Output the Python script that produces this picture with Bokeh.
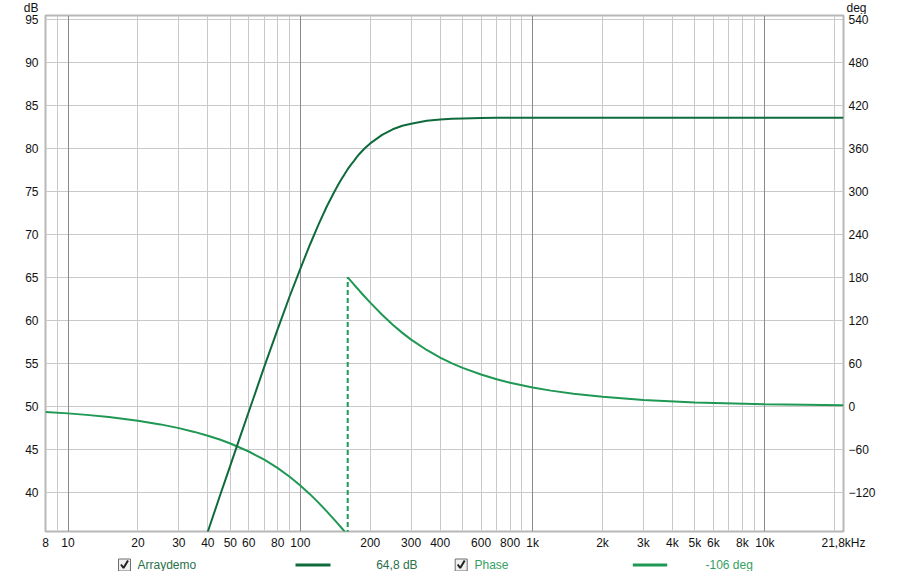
from bokeh.plotting import figure
from bokeh.models import Range1d, LinearAxis, FixedTicker, Grid
from bokeh.layouts import column
from bokeh.embed import file_html
from bokeh.resources import INLINE
from bokeh.core.properties import value

# ---------------- data ----------------
mag_freq = [30, 40, 45, 50, 55, 60, 70, 80, 90, 100, 110, 120, 130, 140, 145,
            150, 155, 160, 165, 170, 175, 180, 190, 200, 225, 250, 275, 300,
            350, 400, 450, 500, 600, 700, 800, 1000, 2000, 5000, 10000, 21800]
mag_db = [25.4, 35.4, 39.5, 43.1, 46.4, 49.35, 54.6, 59.0, 62.8, 66.0, 68.8,
          71.2, 73.25, 74.95, 75.7, 76.4, 77.0, 77.6, 78.1, 78.55, 79.0, 79.4,
          80.06, 80.6, 81.6, 82.25, 82.66, 82.9, 83.23, 83.38, 83.46, 83.51,
          83.56, 83.58, 83.59, 83.6, 83.6, 83.6, 83.6, 83.6]

ph1_freq = [8, 10, 12, 15, 20, 25, 30, 35, 40, 45, 50, 60, 70, 80, 90, 100,
            110, 120, 130, 135, 140, 145, 150, 155, 160]
ph1_deg = [-8.1, -10.1, -12.2, -15.2, -20.4, -25.5, -30.7, -36.0, -41.3, -46.7,
           -52.2, -63.4, -74.8, -86.6, -98.7, -110.8, -123.0, -135.2, -147.0,
           -152.9, -158.6, -164.1, -169.6, -174.9, -180.0]
ph2_freq = [160, 165, 170, 175, 180, 190, 200, 225, 250, 275, 300, 350, 400,
            450, 500, 600, 700, 800, 1000, 1200, 1500, 2000, 3000, 5000, 10000,
            21800]
ph2_deg = [180.0, 175.0, 170.2, 165.5, 161.0, 152.6, 144.7, 127.7, 113.8, 102.4,
           93.0, 78.5, 67.9, 59.8, 53.5, 44.2, 37.7, 32.8, 26.1, 21.7, 17.4,
           13.0, 8.7, 5.2, 2.6, 1.2]

x_major_ticks = [8, 10, 20, 30, 40, 50, 60, 80, 100, 200, 300, 400, 600, 800,
                 1000, 2000, 3000, 4000, 5000, 6000, 8000, 10000, 21800]
x_major_labels = ["8", "10", "20", "30", "40", "50", "60", "80", "100", "200",
                  "300", "400", "600", "800", "1k", "2k", "3k", "4k", "5k",
                  "6k", "8k", "10k", "21,8kHz"]
x_minor_ticks = [9, 70, 90, 500, 700, 900, 7000, 9000, 20000]
decade_ticks = [10, 100, 1000, 10000]
db_ticks = [40, 45, 50, 55, 60, 65, 70, 75, 80, 85, 90, 95]
deg_ticks = [-120, -60, 0, 60, 120, 180, 240, 300, 360, 420, 480, 540]

x_lo, x_hi = 8, 21800
db_lo, db_hi = 35.4, 95.5
deg_lo, deg_hi = -175.2, 546.0

axis_units = ["dB", "deg"]
legend_names = ["Arraydemo", "Phase"]
legend_values = ["64,8 dB", "-106 deg"]

# ---------------- style ----------------
MAG = "#0f6b3c"
PH = "#1f9854"
MAG_TXT = "#2a7049"
PH_TXT = "#35a062"
GRID = "#c9c9c9"
DECADE = "#8a8a8a"
FONT = "Liberation Sans"
W = 884


def strip(height):
    f = figure(width=W, height=height, x_range=Range1d(0, W),
               y_range=Range1d(0, height), output_backend="svg",
               toolbar_location=None, title=None, min_border=0,
               x_axis_location=None, y_axis_location=None, frame_align=False)
    f.grid.visible = False
    f.outline_line_color = None
    f.background_fill_color = "white"
    f.border_fill_color = "white"
    return f


# ---------------- header strip with unit labels ----------------
hd = strip(14)
hd.text(x=[38, 846], y=[7, 7], text=axis_units,
        text_align=["right", "left"], text_baseline="middle",
        text_color="#111111", text_font=value(FONT), text_font_size="12px")

# ---------------- main plot ----------------
p = figure(width=W, height=538, x_axis_type="log",
           x_range=Range1d(x_lo, x_hi), y_range=Range1d(db_lo, db_hi),
           output_backend="svg", toolbar_location=None, title=None,
           min_border_left=45, min_border_right=41, min_border_top=1,
           min_border_bottom=18, frame_align=False)
p.extra_y_ranges = {"deg": Range1d(deg_lo, deg_hi)}

p.xaxis.ticker = FixedTicker(ticks=x_major_ticks, minor_ticks=x_minor_ticks)
p.xaxis.major_label_overrides = dict(zip(x_major_ticks, x_major_labels))
p.yaxis.ticker = FixedTicker(ticks=db_ticks)
rax = LinearAxis(y_range_name="deg", ticker=FixedTicker(ticks=deg_ticks))
p.add_layout(rax, "right")

for ax in p.axis:
    ax.axis_line_color = None
    ax.major_tick_line_color = None
    ax.minor_tick_line_color = None
    ax.major_tick_out = 0
    ax.major_tick_in = 0
    ax.minor_tick_out = 0
    ax.minor_tick_in = 0
    ax.major_label_text_font = FONT
    ax.major_label_text_font_size = "12px"
    ax.major_label_text_color = "#111111"
p.yaxis[0].major_label_standoff = 7
rax.major_label_standoff = 5
p.xaxis.major_label_standoff = 4

p.xgrid.grid_line_color = GRID
p.xgrid.minor_grid_line_color = GRID
p.ygrid.grid_line_color = GRID
p.add_layout(Grid(dimension=0, ticker=FixedTicker(ticks=decade_ticks),
                  grid_line_color=DECADE))

p.outline_line_color = "#b8b8b8"
p.outline_line_width = 2
p.background_fill_color = "white"
p.border_fill_color = "white"

p.line(ph1_freq, ph1_deg, y_range_name="deg", line_color=PH, line_width=2)
p.line(ph2_freq, ph2_deg, y_range_name="deg", line_color=PH, line_width=2)
p.segment(x0=[ph2_freq[0]], y0=[ph1_deg[-1]], x1=[ph2_freq[0]], y1=[ph2_deg[0]],
          y_range_name="deg", line_color=PH, line_width=2, line_dash="5 3")
p.line(mag_freq, mag_db, line_color=MAG, line_width=2)

# ---------------- legend row ----------------
lg = strip(19)
cy = 6.5
box_x = [124, 460.7]
lg.rect(x=box_x, y=cy, width=12, height=12, fill_color="#f0f0f0",
        line_color="#6e6e6e", line_width=1)
lg.multi_line(xs=[[bx - 3.5, bx - 1, bx + 3.5] for bx in box_x],
              ys=[[cy + 0.5, cy - 3, cy + 4.5] for _ in box_x],
              line_color="#222222", line_width=2)
lg.segment(x0=[295, 632.3], x1=[330, 666.7], y0=[cy, cy], y1=[cy, cy],
           line_color=[MAG, PH], line_width=3)
lg.text(x=[137, 474], y=[cy, cy], text=legend_names, text_color=[MAG_TXT, PH_TXT],
        text_align="left", text_baseline="middle",
        text_font=value(FONT), text_font_size="12px")
lg.text(x=[375.7, 705], y=[cy, cy], text=legend_values,
        text_color=[MAG_TXT, PH_TXT], text_align="left", text_baseline="middle",
        text_font=value(FONT), text_font_size="12px")

layout = column(hd, p, lg, spacing=0)
open("out.html", "w").write(file_html(layout, INLINE))
